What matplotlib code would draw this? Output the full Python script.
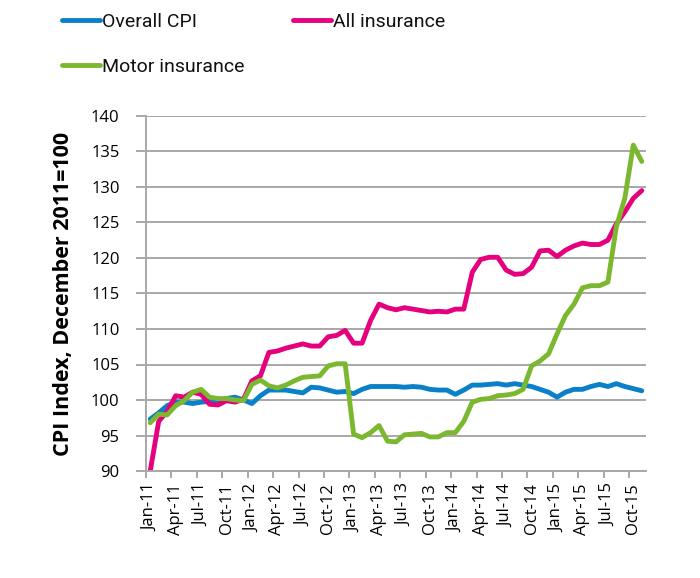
import matplotlib
matplotlib.use("Agg")
import matplotlib.pyplot as plt
from matplotlib.ticker import FixedLocator, NullFormatter

months = ["Jan", "Feb", "Mar", "Apr", "May", "Jun", "Jul", "Aug", "Sep", "Oct", "Nov", "Dec"]
categories = [f"{m}-{y}" for y in range(11, 16) for m in months][:59]

overall_cpi = [97.3, 98.2, 99.2, 99.7, 99.7, 99.5, 99.7, 99.8, 99.9, 100.2, 100.4, 100.0,
               99.5, 100.6, 101.4, 101.4, 101.4, 101.2, 101.0, 101.8, 101.7, 101.4, 101.1, 101.2,
               100.9, 101.5, 101.9, 101.9, 101.9, 101.9, 101.8, 101.9, 101.8, 101.5, 101.4, 101.4,
               100.8, 101.4, 102.1, 102.1, 102.2, 102.3, 102.1, 102.3, 102.1, 101.9, 101.5, 101.1,
               100.4, 101.1, 101.5, 101.5, 101.9, 102.2, 101.9, 102.3, 101.9, 101.6, 101.3]
all_insurance = [90.0, 97.0, 98.4, 100.6, 100.4, 101.1, 100.8, 99.4, 99.3, 99.9, 99.7, 100.1,
                 102.7, 103.4, 106.7, 106.9, 107.3, 107.6, 107.9, 107.6, 107.6, 108.9, 109.1, 109.8,
                 108.0, 108.0, 111.2, 113.5, 113.0, 112.7, 113.0, 112.8, 112.6, 112.4, 112.5, 112.4,
                 112.8, 112.8, 118.0, 119.8, 120.1, 120.1, 118.3, 117.7, 117.8, 118.7, 121.0, 121.1,
                 120.2, 121.1, 121.7, 122.1, 121.9, 121.9, 122.5, 124.8, 126.5, 128.4, 129.5]
motor_insurance = [96.8, 98.0, 97.9, 99.2, 99.9, 101.1, 101.5, 100.4, 100.2, 100.2, 100.0, 99.9,
                   102.2, 102.8, 102.0, 101.7, 102.1, 102.7, 103.2, 103.3, 103.4, 104.8, 105.1, 105.1,
                   95.2, 94.7, 95.4, 96.4, 94.2, 94.1, 95.1, 95.2, 95.3, 94.8, 94.8, 95.4,
                   95.4, 97.0, 99.7, 100.1, 100.2, 100.6, 100.7, 100.9, 101.5, 104.8, 105.5, 106.5,
                   109.3, 111.9, 113.5, 115.8, 116.1, 116.1, 116.6, 124.4, 128.4, 135.9, 133.6]

series_names = ["Overall CPI", "All insurance", "Motor insurance"]
colors = ["#0A80C8", "#E5007D", "#7CB82F"]
y_ticks = list(range(90, 141, 5))

plt.rcParams["font.family"] = ["Open Sans", "DejaVu Sans"]
GRID = "#a8a8a8"

fig = plt.figure(figsize=(7.0, 5.78), dpi=100)
ax = fig.add_axes([146 / 700, 1 - 471 / 578, 500 / 700, 355 / 578])

x = list(range(len(categories)))
handles = []
for vals, name, c in zip([overall_cpi, all_insurance, motor_insurance], series_names, colors):
    h, = ax.plot(x[:len(vals)], vals, color=c, lw=3.5, solid_capstyle="round",
                 solid_joinstyle="round", label=name)
    handles.append(h)

ax.set_xlim(-0.5, len(categories) - 0.5)
ax.set_ylim(90, 140)
ax.set_yticks(y_ticks)
ax.set_yticklabels([str(t) for t in y_ticks], fontsize=12)
ax.yaxis.grid(True, color=GRID, lw=1.4)
ax.set_axisbelow(True)

major = list(range(0, len(categories), 3))
ax.set_xticks(major)
ax.set_xticklabels([categories[i] for i in major], rotation=90, fontsize=12)
ax.tick_params(axis="x", which="major", length=0, pad=9)
ax.xaxis.set_minor_locator(FixedLocator([i - 0.5 for i in range(0, len(categories), 3)]))
ax.xaxis.set_minor_formatter(NullFormatter())
ax.tick_params(axis="x", which="minor", length=5, width=1.4, color=GRID)
ax.tick_params(axis="y", length=7, width=1.4, color=GRID, pad=12)

for s in ["top", "right"]:
    ax.spines[s].set_visible(False)
for s in ["left", "bottom"]:
    ax.spines[s].set_color(GRID)
    ax.spines[s].set_linewidth(1.4)

ax.set_ylabel("CPI Index, December 2011=100", fontsize=15.5, fontweight="bold", labelpad=12)

order = [0, 2, 1]
leg = fig.legend(handles=[handles[i] for i in order], labels=[series_names[i] for i in order],
                 ncol=2, loc="upper left", bbox_to_anchor=(0.063, 1.008), frameon=False,
                 handlelength=2.0, handletextpad=0.1, columnspacing=2.45,
                 labelspacing=1.4, prop={"family": ["Roboto", "DejaVu Sans"], "size": 14})
for t in leg.get_texts():
    t.set_color("#111111")
for l in leg.get_lines():
    l.set_linewidth(3.5)

fig.savefig("out.png", dpi=100)
